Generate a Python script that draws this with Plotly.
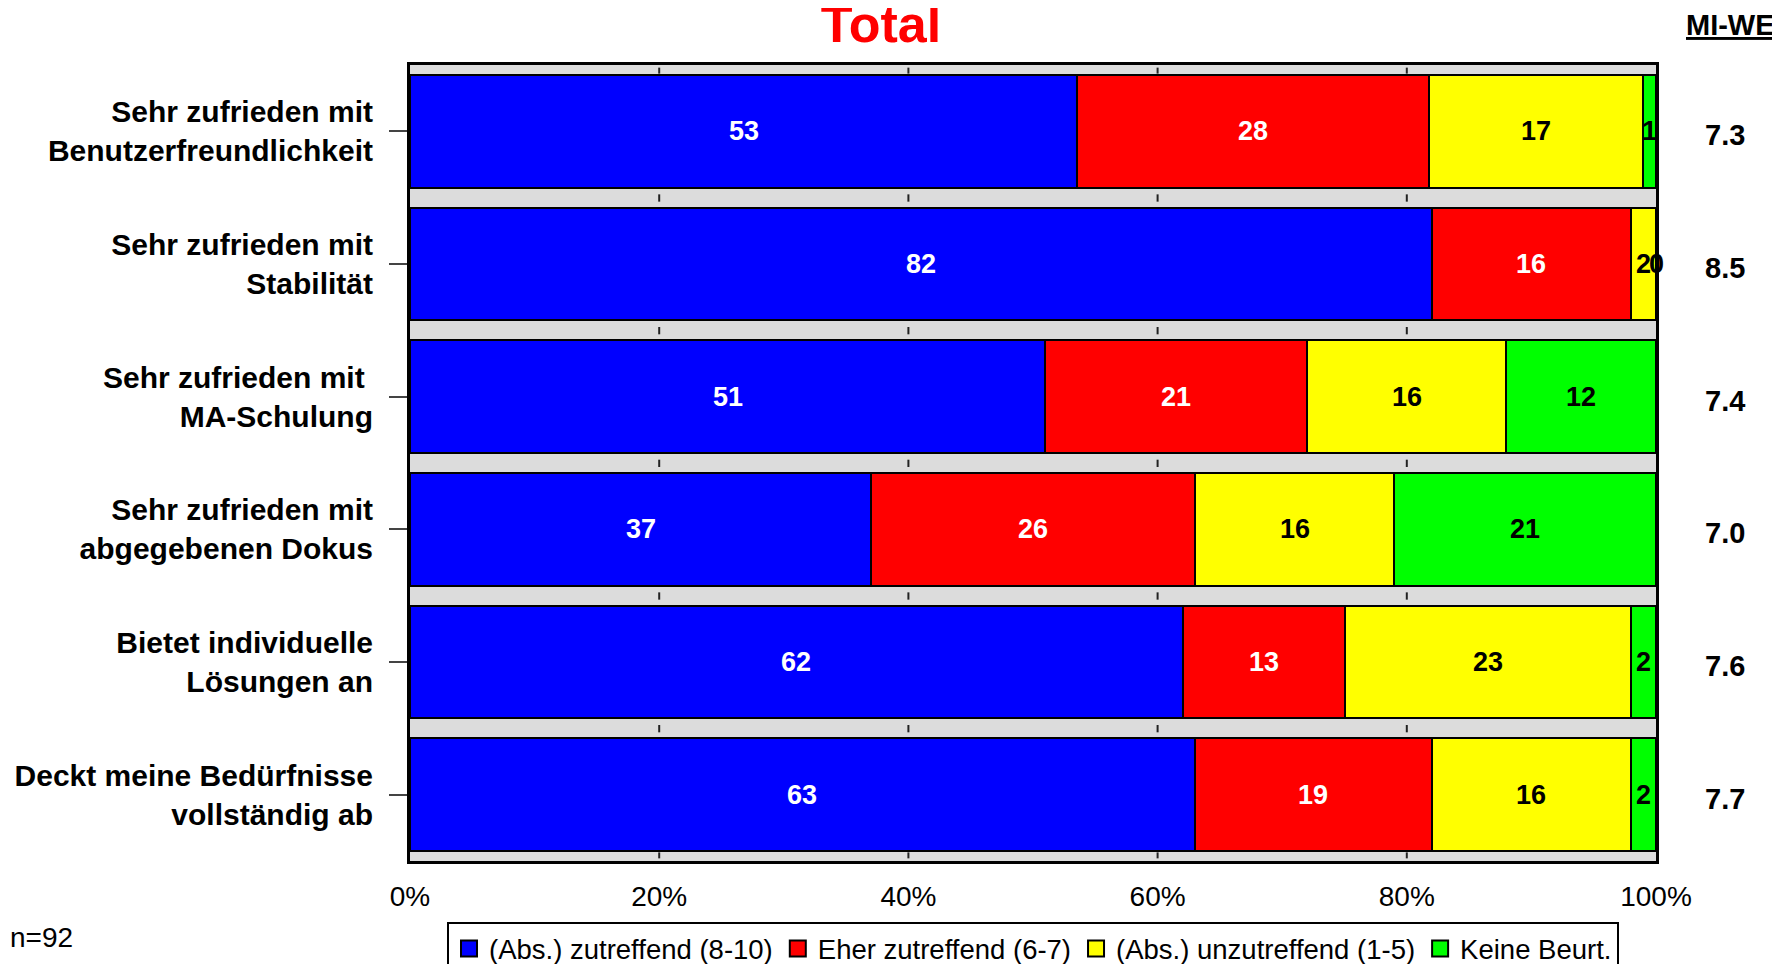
import plotly.graph_objects as go

# ---- data ----
categories = [
    "Sehr zufrieden mit<br>Benutzerfreundlichkeit",
    "Sehr zufrieden mit<br>Stabilität",
    "Sehr zufrieden mit\u00a0<br>MA-Schulung",
    "Sehr zufrieden mit<br>abgegebenen Dokus",
    "Bietet individuelle<br>Lösungen an",
    "Deckt meine Bedürfnisse<br>vollständig ab",
]
series_names = [
    "(Abs.) zutreffend (8-10)",
    "Eher zutreffend (6-7)",
    "(Abs.) unzutreffend (1-5)",
    "Keine Beurt.",
]
zutreffend = [53, 82, 51, 37, 62, 63]
eher_zutreffend = [28, 16, 21, 26, 13, 19]
unzutreffend = [17, 2, 16, 16, 23, 16]
keine_beurt = [1, 0, 12, 21, 2, 2]
mi_we = [7.3, 8.5, 7.4, 7.0, 7.6, 7.7]
x_ticks = [0, 20, 40, 60, 80, 100]
x_tick_labels = ["0%", "20%", "40%", "60%", "80%", "100%"]
n_text = "n=92"
title_text = "Total"
mi_we_header = "MI-WE"

# ---- styles ----
colors = ["#0000ff", "#ff0000", "#ffff00", "#00ff00"]
label_colors = ["white", "white", "black", "black"]
FONT = "Liberation Sans, Arial, sans-serif"

series = [zutreffend, eher_zutreffend, unzutreffend, keine_beurt]

fig = go.Figure()
for name, vals, col in zip(series_names, series, colors):
    fig.add_trace(go.Bar(
        y=categories, x=vals, name=name, orientation="h", legendgroup=name,
        marker=dict(color=col, line=dict(color="black", width=2)),
        hoverinfo="skip", showlegend=False,
    ))
# legend entries with larger square swatches
for name, col in zip(series_names, colors):
    fig.add_trace(go.Scatter(
        x=[None], y=[None], mode="markers", name=name, legendgroup=name,
        marker=dict(symbol="square", size=16, color=col, line=dict(color="black", width=2)),
        hoverinfo="skip", showlegend=True,
    ))

annotations = []
# value labels centred in each segment (normalised like barnorm)
for i, cat in enumerate(categories):
    total = sum(s[i] for s in series)
    cum = 0.0
    for s, lc in zip(series, label_colors):
        pct = s[i] / total * 100
        annotations.append(dict(
            x=cum + pct / 2, y=cat, xref="x", yref="y", text=str(s[i]),
            xanchor="center", yanchor="middle", showarrow=False,
            font=dict(family=FONT, size=27, color=lc, weight="bold"),
        ))
        cum += pct
    annotations.append(dict(
        x=1.0554, y=cat, xref="paper", yref="y", text=f"{mi_we[i]:.1f}",
        xanchor="center", yanchor="middle", showarrow=False, yshift=-4,
        font=dict(family=FONT, size=29, color="black", weight="bold"),
    ))

annotations.append(dict(
    x=1.060, y=1.050, xref="paper", yref="paper", text=f"<u>{mi_we_header}</u>",
    xanchor="center", yanchor="middle", showarrow=False,
    font=dict(family=FONT, size=29, color="black", weight="bold"),
))
annotations.append(dict(
    x=-0.3226, y=-0.0967, xref="paper", yref="paper", text=n_text,
    xanchor="left", yanchor="middle", showarrow=False,
    font=dict(family=FONT, size=28, color="black"),
))

# small tick marks inside the grey gaps
shapes = []
n = len(categories)
gap_centres = [i + 0.5 for i in range(-1, n)]
for g in gap_centres:
    if g < 0:
        y0, y1 = g + 0.02, g + 0.065
    elif g > n - 1:
        y0, y1 = g - 0.065, g - 0.02
    else:
        y0, y1 = g - 0.025, g + 0.03
    for t in x_ticks[1:-1]:
        shapes.append(dict(type="line", xref="x", yref="y", x0=t, x1=t, y0=y0, y1=y1,
                           line=dict(color="#222222", width=2), layer="above"))

fig.update_layout(
    width=1780, height=964,
    barmode="stack", barnorm="percent", bargap=0.15,
    paper_bgcolor="white", plot_bgcolor="#dcdcdc",
    margin=dict(l=402, r=132, t=57, b=111),
    font=dict(family=FONT, color="black"),
    title=dict(text=title_text, x=873 / 1780, xanchor="center",
               y=1 - 16 / 964, yanchor="middle", yref="container",
               font=dict(family=FONT, size=52, color="#ff0000", weight="bold")),
    showlegend=True,
    legend=dict(orientation="h", x=0.5, xanchor="center",
                y=1 - 914 / 964, yanchor="top", yref="container",
                bordercolor="black", borderwidth=2, bgcolor="white",
                font=dict(family=FONT, size=27.5, color="black"),
                traceorder="normal", itemwidth=30),
    annotations=annotations,
    shapes=shapes,
)
fig.update_xaxes(
    range=[0, 100], tickvals=x_ticks, ticktext=x_tick_labels,
    showgrid=False, zeroline=False, showline=True, mirror=True,
    linecolor="black", linewidth=3, ticks="", ticklabelstandoff=8,
    tickfont=dict(family=FONT, size=28, color="black"), automargin=False,
)
fig.update_yaxes(
    categoryorder="array", categoryarray=categories, autorange="reversed",
    showgrid=False, zeroline=False, showline=True, mirror=True,
    linecolor="black", linewidth=3, ticks="outside", ticklen=18,
    tickcolor="#444444", tickwidth=1.5, ticklabelstandoff=10,
    tickfont=dict(family=FONT, size=30, color="black", weight="bold"),
    automargin=False,
)

fig.write_html("out.html")
